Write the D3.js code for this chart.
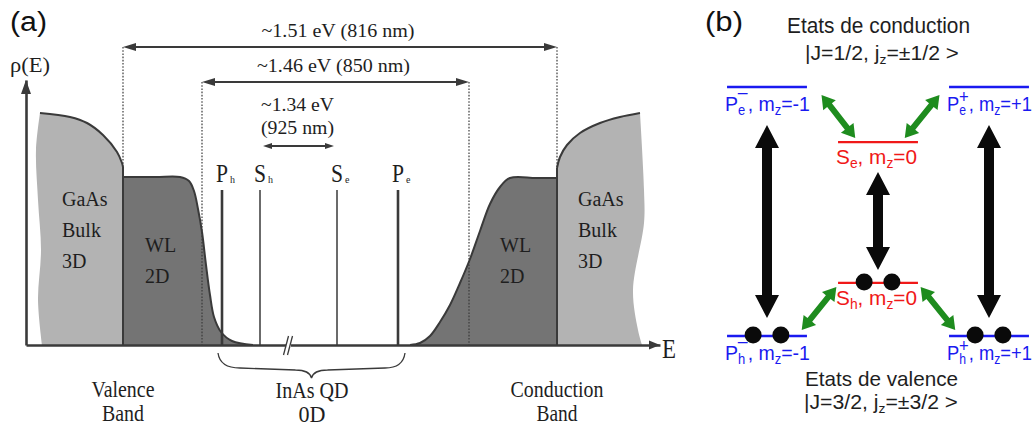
<!DOCTYPE html>
<html><head><meta charset="utf-8">
<script src="https://cdn.jsdelivr.net/npm/d3@7"></script>
<style>body{margin:0;background:#fff}svg{display:block}</style>
</head><body>
<svg id="c" width="1036" height="432"></svg>
<script>
// ================= DATA : panel (a)  (energy axis / density of states, arbitrary units) =================
const gaasLeftTop   = [[14,232],[44,228],[61,222],[77,210],[91,193],[96,182],[97,178]];
const gaasLeftEdge  = [[16,0],[12,45],[15,95],[12,145],[10,195],[14,232]];
const wlLeftCurve   = [[97,168],[130,168],[154,168],[163,164],[168,154],[172,136],[176,113],[180,80],[184,50],[188,28],[195,13],[206,4],[227,0]];
const wlRightCurve  = [[384,0],[394,2],[404,9],[414,23],[424,40],[434,62],[444,86],[454,114],[464,141],[474,158],[484,167],[510,167],[531,167]];
const gaasRightTop  = [[531,177],[534,188],[541,200],[554,212],[574,222],[594,228],[614,232]];
const gaasRightEdge = [[614,232],[618,155],[618,122],[607,55],[612,15],[616,0]];
const bandEdgesE    = [97,531];            // GaAs / WL boundaries

const gapLabels = [["~1.51 eV (816 nm)"],["~1.46 eV (850 nm)"],["~1.34 eV","(925 nm)"]];
const gapEnds   = [[97,531],[176,443],[237,308]];
const gapLevel  = [298,263,199];
const gapDrops  = [[178,177],[0,0],null];

const qdNames = ["P","S","S","P"];
const qdSubs  = ["h","h","e","e"];
const qdE     = [196,234,311,372];
const qdHeavy = [true,false,false,true];
const qdTop   = 155;
const breakE  = 262;
const qdBrace = [192,379];

const bandText    = [["GaAs","Bulk","3D"],["WL","2D"],["WL","2D"],["GaAs","Bulk","3D"]];
const bandTextE   = [36,119,474,552];
const bandTextRho = [[139,108,77],[93,62],[93,62],[139,108,77]];
const regionText  = [["Valence","Band"],["InAs QD","0D"],["Conduction","Band"]];
const regionE     = [97,286,531];

// ================= DATA : panel (b)  (m_z, energy arb. units) =================
const levelBase  = ["P","P","S","S","P","P"];
const levelSub   = ["e","e","e","h","h","h"];
const levelSup   = ["−","+","","","−","+"];
const levelMz    = [-1,1,0,0,-1,1];
const levelE     = [100,100,77.9,21.3,0,0];
const levelKind  = ["P","P","S","S","P","P"];
const levelDots  = [false,false,false,true,true,true];
const opticalM   = [-1,0,1];
const opticalE   = [[7.2,84.7],[26.5,65.9],[7.2,84.7]];
const relaxPairs = [[[-0.509,96.8],[-0.205,79.5]],[[0.554,96.8],[0.241,79.5]],
                    [[-0.375,19.7],[-0.6875,2.4]],[[0.384,19.7],[0.696,2.4]]];
const titlesB    = ["Etats de conduction","Etats de valence"];
const ketJ       = ["1/2","3/2"];

// ================= RENDER =================
const svg = d3.select("#c");
const SERIF = '"Liberation Serif","Times New Roman",serif';
const SANS  = '"Liberation Sans",Arial,Helvetica,sans-serif';
const INK = "#3a3a3a", TXT = "#1e1e1e";
const LIGHT = "#b3b3b3", DARK = "#747474";
const BLUE = "#1a1af0", RED = "#f01818", GREEN = "#1e8c1e";

const xA = d3.scaleLinear().domain([0,634]).range([26,660]);
const yA = d3.scaleLinear().domain([0,265]).range([345,80]);
const xB = d3.scaleLinear().domain([-1,1]).range([767,989]);
const yB = d3.scaleLinear().domain([0,100]).range([336,87]);

const lin = d3.line().x(d=>xA(d[0])).y(d=>yA(d[1]));
const crv = d3.line().x(d=>xA(d[0])).y(d=>yA(d[1])).curve(d3.curveCatmullRom.alpha(0.5));
const join = (...p)=>p.map((s,i)=>i?s.replace(/^M/,"L"):s).join("");

function txt(g,s,x,y,o={}){
  const t=g.append("text").attr("x",x).attr("y",y).text(s)
    .attr("font-family",o.family||SERIF).attr("font-size",o.size||20)
    .attr("fill",o.fill||TXT).attr("text-anchor",o.anchor||"start");
  if(o.len) t.attr("textLength",o.len).attr("lengthAdjust",o.adj||"spacingAndGlyphs");
  return t;
}
// squeeze/stretch a (multi-tspan) text horizontally so that it spans targetW starting at x0
function fit(t,x0,targetW){
  const w=t.node().getBBox().width;
  const s=targetW/w;
  t.attr("transform",`translate(${x0},0) scale(${s},1) translate(${-x0},0)`);
}
function arrowPts(x0,y0,x1,y1,sw,hw,hl){
  const dx=x1-x0,dy=y1-y0,L=Math.hypot(dx,dy),ux=dx/L,uy=dy/L,nx=-uy,ny=ux;
  const P=(t,s)=>[x0+ux*t+nx*s,y0+uy*t+ny*s];
  return [P(0,0),P(hl,hw/2),P(hl,sw/2),P(L-hl,sw/2),P(L-hl,hw/2),P(L,0),
          P(L-hl,-hw/2),P(L-hl,-sw/2),P(hl,-sw/2),P(hl,-hw/2)];
}
const poly = pts => "M"+pts.map(p=>p.join(",")).join("L")+"Z";

// ---------- panel (a) ----------
const A = svg.append("g");
txt(A,"(a)",10,31,{family:SANS,size:27,fill:"#111",len:37});

// fills
A.append("path").attr("fill",LIGHT)
  .attr("d",join(crv(gaasLeftTop),lin([[97,178],[97,0],[16,0]]),crv(gaasLeftEdge))+"Z");
A.append("path").attr("fill",DARK)
  .attr("d",join(lin([[97,0],[97,168]]),crv(wlLeftCurve))+"Z");
A.append("path").attr("fill",DARK)
  .attr("d",join(crv(wlRightCurve),lin([[531,167],[531,0]]))+"Z");
A.append("path").attr("fill",LIGHT)
  .attr("d",join(lin([[531,0],[531,177]]),crv(gaasRightTop),crv(gaasRightEdge))+"Z");

// outlines
const outl = [crv(gaasLeftTop), lin([[bandEdgesE[0],178],[bandEdgesE[0],0]]), crv(wlLeftCurve),
              crv(wlRightCurve), lin([[bandEdgesE[1],177],[bandEdgesE[1],0]]), crv(gaasRightTop)];
A.selectAll("path.ol").data(outl).join("path").attr("class","ol").attr("d",d=>d)
  .attr("fill","none").attr("stroke",INK).attr("stroke-width",2);

// QD levels
qdE.forEach((e,i)=>{
  A.append("line").attr("x1",xA(e)).attr("x2",xA(e)).attr("y1",yA(0)).attr("y2",yA(qdTop))
    .attr("stroke",INK).attr("stroke-width",qdHeavy[i]?2.6:1.5);
  txt(A,qdNames[i],xA(e)-6,yA(qdTop)-8,{size:25,len:12});
  txt(A,qdSubs[i],xA(e)+8,yA(qdTop)-7,{size:10});
});

// axes (D3 axes without ticks) + arrowheads
A.append("g").attr("transform",`translate(0,${yA(0)})`)
  .call(d3.axisBottom(xA).tickValues([]).tickSizeOuter(0))
  .call(g=>g.select(".domain").attr("stroke",INK).attr("stroke-width",2.6));
A.append("g").attr("transform",`translate(${xA(0)},0)`)
  .call(d3.axisLeft(yA).tickValues([]).tickSizeOuter(0))
  .call(g=>g.select(".domain").attr("stroke",INK).attr("stroke-width",2.6));
const xe=xA.range()[1], yt=yA.range()[1];
A.append("path").attr("fill",INK).attr("d",`M${xe},${yA(0)}L${xe-11},${yA(0)-4.5}L${xe-11},${yA(0)+4.5}Z`);
A.append("path").attr("fill",INK).attr("d",`M${xA(0)},${yt}L${xA(0)-5},${yt+14}L${xA(0)+5},${yt+14}Z`);
txt(A,"E",xe+2,358,{size:27,len:14});
txt(A,"ρ(E)",10,72,{size:21,len:40});

// axis break
const bx=xA(breakE), by=yA(0);
A.append("rect").attr("x",bx-2).attr("y",by-3).attr("width",5).attr("height",6).attr("fill","#fff");
[-2,2].forEach(o=>A.append("line").attr("x1",bx+o-2.5).attr("y1",by+10).attr("x2",bx+o+2.5).attr("y2",by-9)
  .attr("stroke",INK).attr("stroke-width",1.3));

// gap arrows, dotted guides, labels
gapEnds.forEach((ee,i)=>{
  const y=yA(gapLevel[i]);
  const small = i===2;
  A.append("path").attr("fill",INK)
    .attr("d",poly(arrowPts(xA(ee[0]),y,xA(ee[1]),y,2,small?6:8,small?9:13)));
  if(gapDrops[i]) ee.forEach((e,k)=>A.append("line").attr("x1",xA(e)).attr("x2",xA(e))
      .attr("y1",y).attr("y2",yA(gapDrops[i][k])).attr("stroke",INK).attr("stroke-width",1.2)
      .attr("stroke-dasharray","1.6,1.6"));
  const cx=(xA(ee[0])+xA(ee[1]))/2;
  const lines=gapLabels[i];
  const lens = small?[73,73]:[153];
  const offs = small?[-35,-12]:[-10];
  lines.forEach((s,k)=>txt(A,s,cx-lens[k]/2-(small?1:2),y+offs[k],{size:19,len:lens[k]}));
});

// band labels
bandText.forEach((ls,i)=>ls.forEach((s,k)=>txt(A,s,xA(bandTextE[i]),yA(bandTextRho[i][k]),{size:20})));

// brace under QD region
{
  const x0=xA(qdBrace[0]), x1=xA(qdBrace[1]), xm=(x0+x1)/2, y0=yA(0)+8;
  const d=`M${x0},${y0}Q${x0+2},${y0+15} ${x0+22},${y0+15}L${xm-16},${y0+17}Q${xm-2},${y0+17} ${xm},${y0+25}`+
          `Q${xm+2},${y0+17} ${xm+16},${y0+17}L${x1-20},${y0+15}Q${x1-2},${y0+15} ${x1},${y0}`;
  A.append("path").attr("d",d).attr("fill","none").attr("stroke",INK).attr("stroke-width",1.3);
}
const regLens=[[63,42],[73,27],[93,41]];
regionText.forEach((ls,i)=>ls.forEach((s,k)=>{
  const cx=xA(regionE[i]);
  txt(A,s,cx-regLens[i][k]/2,(i===1?398:397)+k*24,{size:23,len:regLens[i][k]});
}));

// ---------- panel (b) ----------
const B = svg.append("g");
txt(B,"(b)",705,31,{family:SANS,size:27,fill:"#111",len:38});
const halfW = 0.36;
const colorOf = k => k==="P"?BLUE:RED;

levelE.forEach((E,i)=>{
  const c=colorOf(levelKind[i]), m=levelMz[i];
  B.append("line").attr("x1",xB(m-halfW)).attr("x2",xB(m+halfW)).attr("y1",yB(E)).attr("y2",yB(E))
    .attr("stroke",c).attr("stroke-width",2.3);
  if(levelDots[i]) [-0.125,0.125].forEach(o=>B.append("circle").attr("cx",xB(m+o)).attr("cy",yB(E)-1)
    .attr("r",8.5).attr("fill","#0a0a0a"));
  const isP = levelKind[i]==="P";
  const x0 = xB(m-halfW)-2;
  const t=B.append("text").attr("x",x0).attr("y",yB(E)+(isP?24:22))
    .attr("font-family",SANS).attr("font-size",21).attr("fill",c);
  t.append("tspan").text(levelBase[i]);
  t.append("tspan").attr("font-size",14).attr("dy",4).text(levelSub[i]);
  let back=-4;
  if(levelSup[i]==="−"){ t.append("tspan").attr("font-size",19).attr("dx",-8).attr("dy",-17).text("–"); back=13; }
  if(levelSup[i]==="+"){ t.append("tspan").attr("font-size",19).attr("dx",-8).attr("dy",-12).text("+"); back=8; }
  t.append("tspan").attr("dy",back).text(", m");
  t.append("tspan").attr("font-size",14).attr("dy",4).text("z");
  const mz = levelMz[i]>0?"+"+levelMz[i]:String(levelMz[i]);
  t.append("tspan").attr("dy",-4).text("="+mz);
  fit(t,x0,isP?85:81);
});

// optical transitions (black)
opticalM.forEach((m,i)=>B.append("path").attr("fill","#0a0a0a")
  .attr("d",poly(arrowPts(xB(m),yB(opticalE[i][0]),xB(m),yB(opticalE[i][1]),10,24,23))));
// relaxation (green)
relaxPairs.forEach(p=>B.append("path").attr("fill",GREEN)
  .attr("d",poly(arrowPts(xB(p[0][0]),yB(p[0][1]),xB(p[1][0]),yB(p[1][1]),6,16,13))));

// titles & kets
function ket(g,x0,y,J,jz,w){
  const t=g.append("text").attr("x",x0).attr("y",y).attr("font-family",SANS).attr("font-size",20).attr("fill",TXT);
  t.append("tspan").text("|J="+J+", j");
  t.append("tspan").attr("font-size",13).attr("dy",4).text("z");
  t.append("tspan").attr("dy",-4).text("=±"+jz+" ");
  t.append("tspan").text(">").attr("font-size",21);
  fit(t,x0,w);
}
txt(B,titlesB[0],787,yB(100)-54,{family:SANS,size:22,len:183});
ket(B,805,yB(100)-27,ketJ[0],ketJ[0],154);
txt(B,titlesB[1],805,yB(0)+50,{family:SANS,size:21,len:153});
ket(B,804,yB(0)+73,ketJ[1],ketJ[1],154);
</script>
</body></html>
